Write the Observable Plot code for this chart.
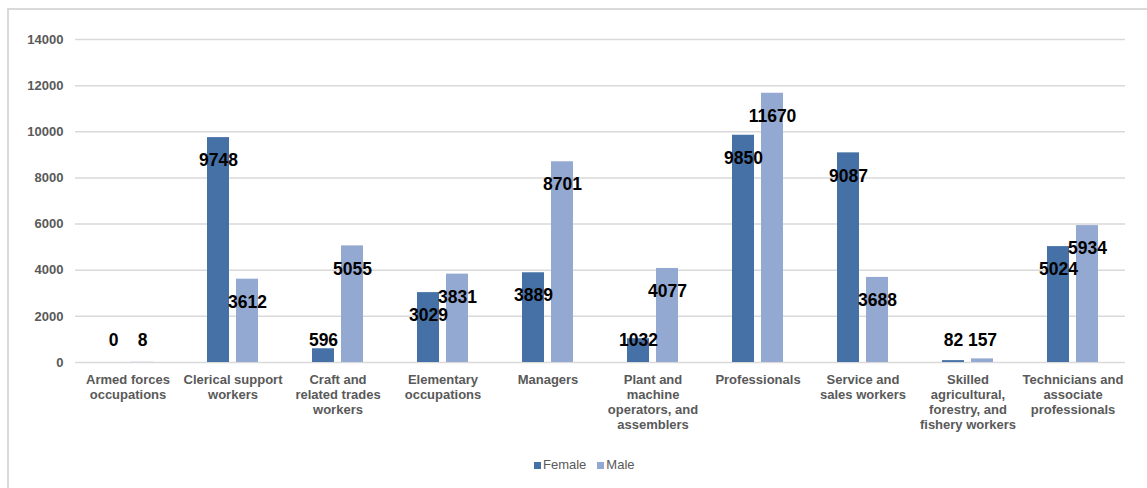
<!DOCTYPE html>
<html><head><meta charset="utf-8">
<script src="https://cdn.jsdelivr.net/npm/d3@7"></script>
<script src="https://cdn.jsdelivr.net/npm/@observablehq/plot@0.6"></script>
<style>
html,body{margin:0;padding:0;background:#fff;overflow:hidden;width:1147px;height:488px;}
#frame{position:absolute;left:7px;top:8px;width:1300px;height:600px;border-left:2px solid #d9d9d9;border-top:2px solid #d9d9d9;}
#chart{position:absolute;left:0;top:0;}
#legend{position:absolute;left:525px;top:448px;font:13px "Liberation Sans",Arial,sans-serif;color:#595959;white-space:nowrap;line-height:14px;}
#legend span.sw{display:inline-block;width:7px;height:7px;margin-right:2px;vertical-align:0px;}
#legend span.item{margin-right:11px;}
</style></head>
<body>
<div id="frame"><div id="chart"></div><div id="legend"></div></div>
<script>
const categories = ["Armed forces occupations","Clerical support workers","Craft and related trades workers","Elementary occupations","Managers","Plant and machine operators, and assemblers","Professionals","Service and sales workers","Skilled agricultural, forestry, and fishery workers","Technicians and associate professionals"];
const tickLabels = ["Armed forces\noccupations","Clerical support\nworkers","Craft and\nrelated trades\nworkers","Elementary\noccupations","Managers","Plant and\nmachine\noperators, and\nassemblers","Professionals","Service and\nsales workers","Skilled\nagricultural,\nforestry, and\nfishery workers","Technicians and\nassociate\nprofessionals"];
const female = [0, 9748, 596, 3029, 3889, 1032, 9850, 9087, 82, 5024];
const male = [8, 3612, 5055, 3831, 8701, 4077, 11670, 3688, 157, 5934];
const seriesNames = ["Female", "Male"];
const seriesColors = ["#4671a6", "#94a9d1"];
const yTicks = [0, 2000, 4000, 6000, 8000, 10000, 12000, 14000];

const data = categories.flatMap((c, i) => [
  {cat: c, sex: "Female", value: female[i]},
  {cat: c, sex: "Male", value: male[i]}
]);
const labelMap = new Map(categories.map((c, i) => [c, tickLabels[i]]));

const chart = Plot.plot({
  width: 1130, height: 440,
  marginLeft: 65, marginRight: 13, marginTop: 29, marginBottom: 88,
  fx: {domain: categories, padding: 0, label: null, axis: null},
  x: {domain: seriesNames, paddingInner: 0.233, paddingOuter: 0.87, axis: null},
  y: {domain: [0, 14000], axis: null},
  color: {domain: seriesNames, range: seriesColors},
  style: {fontFamily: "'Liberation Sans', Arial, sans-serif", fontSize: "13px", fontWeight: "bold", color: "#595959", background: "transparent"},
  marks: [
    Plot.ruleY(yTicks, {stroke: "#d9d9d9", strokeWidth: 1.5, strokeOpacity: 1}),
    Plot.barY(data, {fx: "cat", x: "sex", y: "value", fill: "sex"}),
    Plot.text(data, {fx: "cat", x: "sex", y: d => Math.max(d.value - 1000, 950), text: d => String(d.value), fill: "#000", fontSize: 17.5, fontWeight: "bold"}),
    Plot.axisY({ticks: yTicks, tickSize: 0, tickPadding: 12, tickFormat: d => String(d), fill: "#595959", label: null}),
    Plot.axisFx({anchor: "bottom", tickSize: 0, tickPadding: 11, tickFormat: d => labelMap.get(d), lineHeight: 1.16, fill: "#595959", label: null})
  ]
});
document.getElementById("chart").appendChild(chart);

const legend = document.getElementById("legend");
seriesNames.forEach((s, i) => {
  const item = document.createElement("span");
  item.className = "item";
  const sw = document.createElement("span");
  sw.className = "sw";
  sw.style.background = seriesColors[i];
  item.appendChild(sw);
  item.appendChild(document.createTextNode(s));
  legend.appendChild(item);
});
</script>
</body></html>
